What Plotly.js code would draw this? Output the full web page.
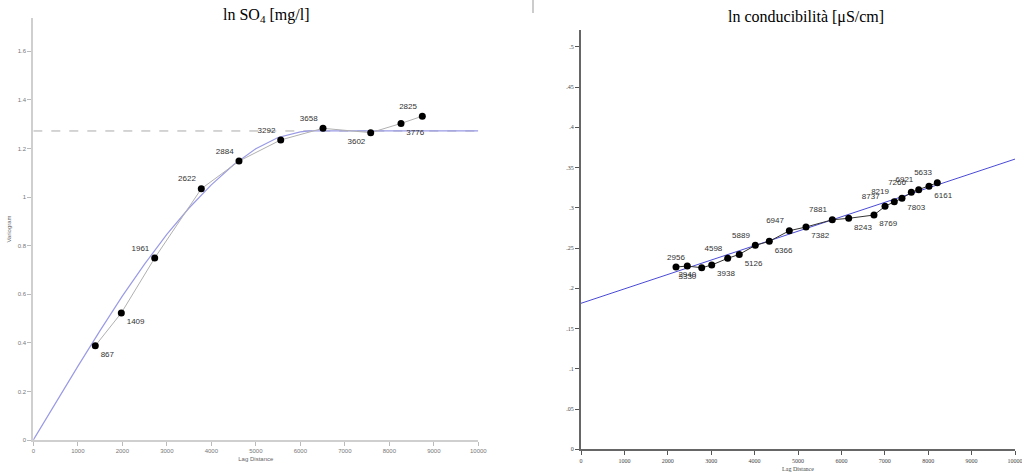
<!DOCTYPE html>
<html>
<head>
<meta charset="utf-8">
<script src="https://cdn.plot.ly/plotly-3.0.1.min.js"></script>
<style>html,body{margin:0;padding:0;background:#fff;}#chart{width:1022px;height:473px;}</style>
</head>
<body>
<div id="chart"></div>
<script>
// ---- Left chart: ln SO4 variogram ----
const so4Lag = [1393, 1978, 2728, 3775, 4622, 5560, 6510, 7582, 8263, 8742];
const so4Gamma = [0.388, 0.523, 0.749, 1.034, 1.148, 1.235, 1.283, 1.265, 1.303, 1.333];
const so4Pairs = ['867', '1409', '1961', '2622', '2884', '3292', '3658', '3602', '3776', '2825'];
const so4LabelPos = ['bottom right', 'bottom right', 'top left', 'top left', 'top left', 'top left', 'top left', 'bottom left', 'bottom right', 'top left'];
const so4ModelLag = [0, 500, 1000, 1500, 2000, 2500, 3000, 3500, 4000, 4500, 5000, 5500, 6000, 6200, 10000];
const so4ModelGamma = [0, 0.152, 0.303, 0.450, 0.592, 0.724, 0.846, 0.955, 1.050, 1.133, 1.199, 1.245, 1.268, 1.272, 1.272];
const so4Sill = 1.272;
const so4YTicks = [0, 0.2, 0.4, 0.6, 0.8, 1, 1.2, 1.4, 1.6];

// ---- Right chart: ln conducibilità variogram ----
const condLag = [2189, 2449, 2781, 3012, 3380, 3647, 4016, 4339, 4800, 5184, 5790, 6168, 6751, 7005, 7219, 7396, 7611, 7781, 8018, 8210];
const condGamma = [0.2265, 0.2277, 0.2256, 0.229, 0.2373, 0.2422, 0.2534, 0.2584, 0.2716, 0.2762, 0.2852, 0.287, 0.2911, 0.3019, 0.3076, 0.3118, 0.3193, 0.3225, 0.3267, 0.3312];
const condPairs = ['2956', '2940', '3330', '3938', '4598', '5126', '5889', '6366', '6947', '7382', '7881', '8243', '8769', '8737', '8219', '7803', '7266', '6921', '6161', '5633'];
const condLabelPos = ['top center', 'bottom center', 'bottom left', 'bottom right', 'top left', 'bottom right', 'top left', 'bottom right', 'top left', 'bottom right', 'top left', 'bottom right', 'bottom right', 'top left', 'top left', 'bottom right', 'top left', 'top left', 'bottom right', 'top left'];
const condModelLag = [0, 10000];
const condModelGamma = [0.1814, 0.3606];
const condYTicks = [0, 0.05, 0.1, 0.15, 0.2, 0.25, 0.3, 0.35, 0.4, 0.45, 0.5];
const condYTickText = ['0', '.05', '.1', '.15', '.2', '.25', '.3', '.35', '.4', '.45', '.5'];

const xTicks = [0, 1000, 2000, 3000, 4000, 5000, 6000, 7000, 8000, 9000, 10000];

const traces = [
  {x: [0, 10000], y: [so4Sill, so4Sill], mode: 'lines', line: {color: '#aaaaaa', width: 1, dash: 'dash'}, xaxis: 'x', yaxis: 'y', hoverinfo: 'skip'},
  {x: so4ModelLag, y: so4ModelGamma, mode: 'lines', line: {color: '#9a9ae6', width: 1.2}, xaxis: 'x', yaxis: 'y'},
  {x: so4Lag, y: so4Gamma, mode: 'lines+markers+text', text: so4Pairs, textposition: so4LabelPos,
   textfont: {family: 'Arial, Liberation Sans, sans-serif', size: 8, color: '#333'},
   line: {color: '#b0b0b0', width: 1}, marker: {color: '#000', size: 7}, xaxis: 'x', yaxis: 'y', cliponaxis: false},
  {x: condModelLag, y: condModelGamma, mode: 'lines', line: {color: '#4a4ad8', width: 1}, xaxis: 'x2', yaxis: 'y2'},
  {x: condLag, y: condGamma, mode: 'lines+markers+text', text: condPairs, textposition: condLabelPos,
   textfont: {family: 'Arial, Liberation Sans, sans-serif', size: 8, color: '#333'},
   line: {color: '#333', width: 1}, marker: {color: '#000', size: 7}, xaxis: 'x2', yaxis: 'y2', cliponaxis: false}
];

const leftAxisCommon = {showgrid: false, zeroline: false, showline: true, linecolor: '#cfcfcf', linewidth: 2,
  ticks: 'outside', ticklen: 4, tickcolor: '#bbb', ticklabeloverflow: 'allow', tickfont: {family: 'Arial, sans-serif', size: 6, color: '#777'}};
const rightAxisCommon = {showgrid: false, zeroline: false, showline: true, linecolor: '#666', linewidth: 2,
  ticks: 'outside', ticklen: 4, tickcolor: '#555', ticklabeloverflow: 'allow', tickfont: {family: 'Liberation Serif, serif', size: 6, color: '#444'}};

const layout = {
  width: 1022, height: 473,
  margin: {l: 0, r: 0, t: 0, b: 0},
  paper_bgcolor: '#fff', plot_bgcolor: '#fff',
  showlegend: false,
  xaxis: Object.assign({}, leftAxisCommon, {domain: [33.3/1022, 478.3/1022], range: [0, 10000], tickvals: xTicks, ticktext: xTicks.map(String), anchor: 'y',
    title: {text: 'Lag Distance', font: {family: 'Arial, sans-serif', size: 6, color: '#666'}, standoff: 4}}),
  yaxis: Object.assign({}, leftAxisCommon, {domain: [33/473, 455/473], range: [0, 1.737], tickvals: so4YTicks, ticktext: so4YTicks.map(String), anchor: 'x',
    title: {text: 'Variogram', font: {family: 'Arial, sans-serif', size: 6, color: '#666'}, standoff: 6}}),
  xaxis2: Object.assign({}, rightAxisCommon, {domain: [581/1022, 1015/1022], range: [0, 10000], tickvals: xTicks, ticktext: xTicks.map(String), anchor: 'y2',
    title: {text: 'Lag Distance', font: {family: 'Liberation Serif, serif', size: 6, color: '#444'}, standoff: 4}}),
  yaxis2: Object.assign({}, rightAxisCommon, {domain: [23.7/473, 443/473], range: [0, 0.521], tickvals: condYTicks, ticktext: condYTickText, anchor: 'x2'}),
  annotations: [
    {text: 'ln SO<sub>4</sub> [mg/l]', xref: 'paper', yref: 'paper', x: 266/1022, y: (473-15)/473, xanchor: 'center', yanchor: 'middle', showarrow: false,
     font: {family: 'Liberation Serif, Times New Roman, serif', size: 16, color: '#000'}},
    {text: 'ln conducibilità [μS/cm]', xref: 'paper', yref: 'paper', x: 806/1022, y: (473-17)/473, xanchor: 'center', yanchor: 'middle', showarrow: false,
     font: {family: 'Liberation Serif, Times New Roman, serif', size: 16, color: '#000'}}
  ],
  shapes: [
    {type: 'line', xref: 'paper', yref: 'paper', x0: 533/1022, x1: 533/1022, y0: 1, y1: (473-13)/473, line: {color: '#999', width: 1}}
  ]
};

Plotly.newPlot('chart', traces, layout, {staticPlot: true, displayModeBar: false});
</script>
</body>
</html>
